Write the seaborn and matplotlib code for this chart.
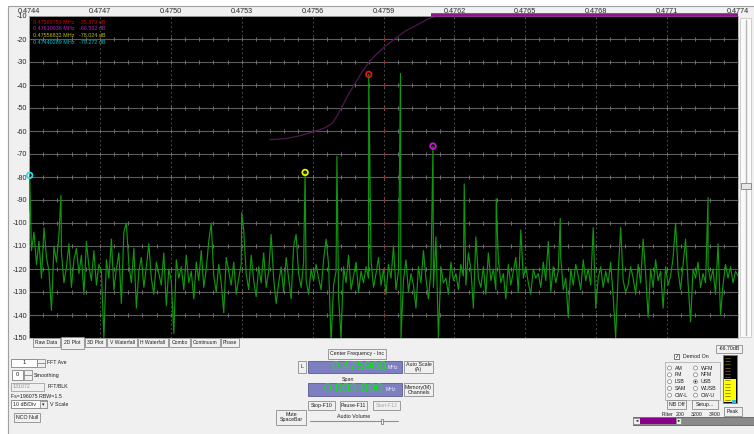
import numpy as np
import pandas as pd
import matplotlib.pyplot as plt
from matplotlib.patches import Rectangle, Ellipse
import seaborn as sns

# frequency span of the display (MHz)
freq_start, freq_stop = 0.4744, 0.4774

# noise floor, evenly spaced across the span (dB)
noise_db = [
    -95, -112, -104, -118, -108, -124, -102, -115, -121, -138, -110, -117, -105, -113, -126, -119, -109, -128, -116, -111,
    -122, -114, -131, -108, -119, -125, -112, -127, -118, -121, -150, -116, -124, -107, -129, -120, -113, -135, -104, -100,
    -118, -126, -111, -137, -121, -115, -128, -119, -109, -124, -131, -117, -122, -127, -113, -136, -120, -125, -148, -116,
    -124, -119, -129, -114, -126, -121, -133, -117, -125, -112, -128, -120, -108, -100, -123, -130, -118, -126, -139, -115,
    -121, -127, -117, -131, -124, -118, -103, -122, -129, -114, -125, -132, -119, -126, -113, -128, -121, -105, -124, -135,
    -126, -119, -130, -115, -124, -133, -110, -105, -122, -128, -117, -125, -131, -120, -125, -118, -124, -129, -116, -107,
    -118, -152, -127, -121, -132, -150, -119, -126, -114, -129, -123, -117, -130, -121, -126, -119, -124, -116, -128, -122,
    -115, -127, -120, -131, -118, -124, -110, -129, -121, -150, -125, -116, -130, -122, -127, -137, -119, -126, -112, -124,
    -133, -121, -128, -106, -150, -119, -126, -124, -131, -117, -125, -122, -129, -118, -123, -127, -113, -120, -137, -106,
    -124, -128, -119, -131, -113, -125, -120, -129, -116, -126, -122, -133, -118, -127, -121, -115, -130, -103, -124, -119,
    -126, -131, -120, -124, -122, -128, -117, -125, -108, -130, -119, -126, -121, -115, -129, -124, -141, -120, -127, -118,
    -123, -129, -116, -125, -120, -127, -102, -137, -124, -119, -128, -121, -126, -117, -132, -150, -122, -102, -125, -130,
    -127, -119, -124, -131, -118, -126, -107, -122, -141, -120, -128, -116, -125, -121, -137, -119, -127, -123, -115, -100,
    -121, -129, -118, -107, -126, -143, -120, -124, -117, -128, -122, -126, -119, -125, -120, -131, -109, -140, -127, -118,
    -124, -119, -126, -121, -123,
]

# carrier spikes
peak_mhz = [0.47440289, 0.4745352, 0.4753000, 0.47556832, 0.4757029, 0.47583759,
            0.4759718, 0.47610936, 0.4762416, 0.4763770, 0.4766479, 0.4772732]
peak_db = [-79.3, -88.0, -95.5, -78.0, -71.0, -35.4, -35.0, -66.6, -83.0, -89.5, -98.0, -89.0]

# peak markers shown in the readout
marker_mhz = [0.47583759, 0.47610936, 0.47556832, 0.47440289]
marker_db = [-35.379, -66.562, -78.024, -79.272]
marker_colors = ["#e01414", "#d014d0", "#f0f000", "#28e0e0"]
readout_colors = ["#d00000", "#b020c0", "#c0c000", "#00c0c0"]

# demod filter passband outline
filter_mhz = [0.4754183, 0.4754859, 0.4755493, 0.4756127, 0.4756549, 0.4756845, 0.4757056,
              0.4757268, 0.4757521, 0.4757817, 0.4758113, 0.4758366, 0.4758662, 0.4759000,
              0.4759465, 0.4759930, 0.4760437, 0.4760901, 0.4761239]
filter_db = [-63.8, -63.3, -62.0, -60.0, -58.5, -56.5, -53.0, -49.0, -44.0, -39.0, -34.0,
             -30.3, -27.0, -23.8, -20.0, -16.5, -13.8, -11.2, -10.0]
filter_bar_mhz = [0.47610, 0.4774]

x_labels = ["0.4744", "0.4747", "0.4750", "0.4753", "0.4756", "0.4759",
            "0.4762", "0.4765", "0.4768", "0.4771", "0.4774"]
y_ticks = [-10, -20, -30, -40, -50, -60, -70, -80, -90, -100, -110, -120, -130, -140, -150]
center_mhz = 0.4759

sns.set_style("white")
plt.rcParams["font.family"] = ["Liberation Sans", "DejaVu Sans"]

W, H = 754, 434
fig = plt.figure(figsize=(W / 100, H / 100), dpi=100)
fig.patch.set_facecolor("white")


def fx(x):
    return x / W


def fy(y):
    return 1 - y / H


def box(x0, y0, x1, y1, fc="#f0f0f0", ec="#a0a0a0", lw=0.6, z=1):
    fig.add_artist(Rectangle((fx(x0), fy(y1)), (x1 - x0) / W, (y1 - y0) / H,
                             transform=fig.transFigure, fc=fc, ec=ec, lw=lw, zorder=z))


def dot(cx, cy, r, fc, ec="none", lw=0.5, z=2):
    fig.add_artist(Ellipse((fx(cx), fy(cy)), 2 * r / W, 2 * r / H,
                           transform=fig.transFigure, fc=fc, ec=ec, lw=lw, zorder=z))


def label(x, y, s, size=3.8, color="#202020", ha="left", **kw):
    fig.text(fx(x), fy(y), s, fontsize=size, color=color, ha=ha, va="center",
             linespacing=1.0, zorder=3, **kw)


def button(x0, y0, x1, y1, s, size=3.8, color="#202020"):
    box(x0, y0, x1, y1, fc="#f0f0f0", ec="#8c8c8c")
    label((x0 + x1) / 2, (y0 + y1) / 2, s, size=size, color=color, ha="center")


# window panel
box(8, 6, 760, 440, fc="#f0f0f0", ec="#a0a0a0", lw=0.8, z=-1)

ax = fig.add_axes([fx(29), fy(338), (738 - 29) / W, (338 - 16) / H])
ax.set_facecolor("black")

# grid
x_major = [float(s) for s in x_labels]
for xv in x_major:
    ax.axvline(xv, color="#5a5a5a", lw=0.7, ls=(0, (1.5, 3)), zorder=1)
for yv in y_ticks[1:-1]:
    ax.axhline(yv, color="#5c5c5c", lw=0.8, zorder=1)
x_minor = np.arange(len(x_labels) * 5 - 4) * 0.00006 + freq_start
gx, gy = np.meshgrid(x_minor, y_ticks[1:-1])
ax.plot(gx.ravel(), gy.ravel(), ls="none", marker="|", ms=2.5, mew=0.7, color="#707070", zorder=1)
ax.plot([center_mhz] * (len(y_ticks) - 2), y_ticks[1:-1], ls="none", marker="|",
        ms=1.6, mew=0.8, color="#c01010", zorder=2)

# spectrum trace
spec = pd.DataFrame({
    "freq": np.concatenate([np.linspace(freq_start, freq_stop, len(noise_db)), peak_mhz]),
    "db": np.concatenate([noise_db, peak_db]),
}).sort_values("freq")
sns.lineplot(data=spec, x="freq", y="db", sort=False, estimator=None,
             color="#11960f", lw=0.85, ax=ax, zorder=3)

# filter outline
sns.lineplot(x=filter_mhz, y=filter_db, sort=False, estimator=None,
             color="#4e1850", lw=0.9, ax=ax, zorder=2)
ax.plot(filter_bar_mhz, [-9.4, -9.4], color="#8a1a8a", lw=2.6, clip_on=False,
        solid_capstyle="butt", zorder=4)

# markers
mk = pd.DataFrame({"freq": marker_mhz, "db": marker_db, "color": marker_colors})
for _, row in mk.iterrows():
    ax.scatter(row["freq"], row["db"], s=16, facecolors="none",
               edgecolors=row["color"], linewidths=1.3, zorder=5, clip_on=False)

# readout
for i, (f, d) in enumerate(zip(marker_mhz, marker_db)):
    ax.text(0.006, 0.988 - i * 0.0205, f"{f:.8f} MHz   {d:.3f} dB",
            transform=ax.transAxes, fontsize=3.9, color=readout_colors[i],
            ha="left", va="top")

ax.set_xlim(freq_start, freq_stop)
ax.set_ylim(-150, -10)
ax.set_xticks(x_major)
ax.set_xticklabels(x_labels)
ax.set_yticks(y_ticks)
ax.set_yticklabels([str(v) for v in y_ticks])
ax.xaxis.set_ticks_position("top")
ax.tick_params(axis="both", length=0, labelsize=5.2, colors="#282828")
ax.tick_params(axis="x", pad=0.8)
ax.tick_params(axis="y", pad=1.5)
ax.set_xlabel("")
ax.set_ylabel("")
for sp in ax.spines.values():
    sp.set_color("#b0b0b0")
    sp.set_linewidth(0.6)

# right slider
box(740, 18, 751, 337, fc="#fafafa", ec="#c8c8c8", lw=0.6)
fig.add_artist(plt.Line2D([fx(746), fx(746)], [fy(20), fy(335)], color="#b4b4b4",
                          lw=1.0, transform=fig.transFigure, zorder=2))
box(741, 183, 751, 189, fc="#e6e6e6", ec="#808080", lw=0.6, z=3)

# view tabs
tabs = [("Raw Data", 33, 60), ("2D Plot", 61, 84), ("3D Plot", 85, 106),
        ("V Waterfall", 107, 137), ("H Waterfall", 138, 168), ("Combo", 169, 190),
        ("Continuum", 191, 220), ("Phase", 221, 239)]
for name, x0, x1 in tabs:
    top = 337 if name == "2D Plot" else 338
    bot = 349 if name == "2D Plot" else 347
    button(x0, top, x1, bot, name, size=3.6)

# left controls
box(11, 359, 37, 367, fc="white", ec="#808080")
label(24, 363, "1", size=4.2, ha="center")
button(37, 359, 45, 363, "", size=3)
button(37, 363, 45, 367, "", size=3)
label(47, 363, "FFT Ave")
box(12, 370, 23, 380, fc="white", ec="#808080")
label(17.5, 375, "0", size=4.2, ha="center")
button(24, 370, 32, 375, "", size=3)
button(24, 375, 32, 380, "", size=3)
label(34, 375, "Smoothing")
box(11, 383, 44, 391, fc="#f0f0f0", ec="#a0a0a0")
label(12.5, 387, "131072", color="#909090")
label(48, 387, "FFT/BLK")
label(11, 396, "Fs=196075 RBW=1.5")
box(11, 400, 47, 408, fc="white", ec="#808080")
label(12.5, 404, "10 dB/Div")
button(40, 401, 46.5, 407.5, "▾", size=3.5)
label(50, 404, "V Scale")
button(14, 413, 40, 422, "NCO Null")

# centre controls
button(328, 349, 386, 359, "Center Frequency - Inc")
button(298, 361, 306, 373, "L")
box(308, 361, 402, 373, fc="#7d7fc0", ec="#5a5a90")
label(387, 367.5, "0.475900", size=9.5, color="#00f000", ha="right")
label(388, 367.5, "MHz", size=3.8, color="#e8e8ff")
button(404, 361, 433, 373, "Auto Scale\n(A)")
label(348, 379, "Span", ha="center")
box(308, 383, 402, 396, fc="#7d7fc0", ec="#5a5a90")
label(383, 389.5, "0.003 000", size=9.5, color="#00f000", ha="right")
label(386, 389.5, "MHz", size=3.8, color="#e8e8ff")
button(404, 383, 433, 396, "Memory(M)\nChannels")
button(308, 401, 335, 410, "Stop-F10")
button(340, 401, 367, 410, "Pause-F11")
button(373, 401, 400, 410, "Start-F12", color="#a8a8a8")
button(276, 410, 306, 425, "Mute\nSpaceBar")
label(354, 416, "Audio Volume", ha="center")
fig.add_artist(plt.Line2D([fx(310), fx(398)], [fy(421), fy(421)], color="#909090",
                          lw=0.8, transform=fig.transFigure, zorder=2))
box(381, 419, 383, 424, fc="#f0f0f0", ec="#707070", lw=0.5, z=3)

# demod panel
button(716, 345, 742, 353, "-66.70dB")
box(674, 354, 679, 359, fc="white", ec="#606060")
label(676.5, 356.5, "✓", size=4, ha="center", family="DejaVu Sans")
label(683, 357, "Demod On")
box(665, 362, 720, 400, fc="#f0f0f0", ec="#b0b0b0")
modes_left = ["AM", "FM", "LSB", "SAM", "CW-L"]
modes_right = ["WFM", "NFM", "USB", "WUSB", "CW-U"]
for j, (ml, mr) in enumerate(zip(modes_left, modes_right)):
    yy = 368 + j * 6.8
    for cx, name in ((669.5, ml), (695.5, mr)):
        dot(cx, yy, 2.0, fc="white", ec="#808080")
        if name == "USB":
            dot(cx, yy, 0.9, fc="black", z=3)
        label(cx + 5, yy, name)
button(667, 400, 686, 408.5, "NB Off")
button(692, 400, 718, 408.5, "Setup...")

# level meter
box(723, 355, 737, 403, fc="black", ec="#808080")
box(724, 379, 736, 402, fc="#ffff00", ec="none", z=2)
for k in range(14):
    yy = 358 + k * 3.2
    fig.add_artist(plt.Line2D([fx(724.5), fx(730)], [fy(yy), fy(yy)], color="#7a6a00",
                              lw=0.5, transform=fig.transFigure, zorder=3))
box(732, 400, 736, 402.5, fc="#30c0e0", ec="none", z=3)
button(724, 407, 742, 416, "Peak")

label(662, 414, "Filter")
label(676, 414, "200")
label(691, 414, "3200")
label(709, 414, "3400")
box(633, 417, 754, 425, fc="#8a8a8a", ec="#606060")
box(640, 418, 676, 424, fc="#8a008a", ec="none", z=2)
button(633, 418, 640, 424, "◄", size=3)
button(676, 418, 681, 424, "►", size=3)

fig.savefig("out.png", dpi=100, facecolor=fig.get_facecolor())
